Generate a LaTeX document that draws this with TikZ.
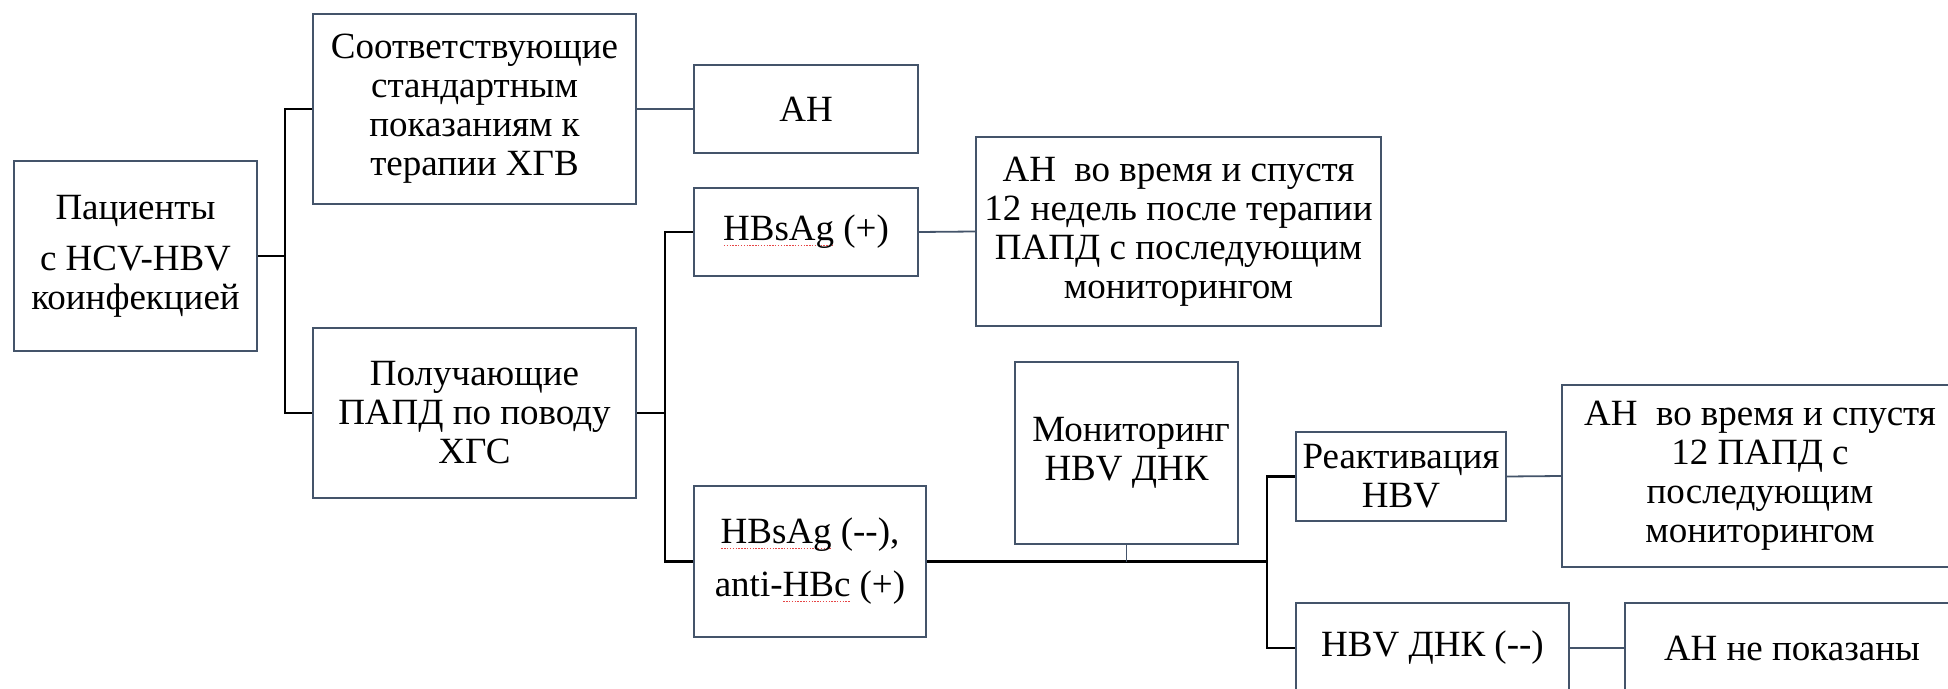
\documentclass[tikz,border=0pt]{standalone}
\usepackage{fontspec}
\setmainfont{Liberation Serif}
\newfontfamily\boxfont[Ligatures=NoCommon]{Liberation Serif}
\usepackage{xcolor}
\definecolor{boxline}{RGB}{68,84,106}
\definecolor{spell}{RGB}{230,70,70}
% dotted red underline under a word
\newcommand\spellmark[1]{\setbox0\hbox{#1}\rlap{\raisebox{-2.6pt}{\color{spell}\hbox to \wd0{\xleaders\hbox to 1.4pt{\hss\rule{0.7pt}{0.55pt}\hss}\hfill}}}\box0\relax}
\begin{document}
\begin{tikzpicture}[x=0.5pt,y=-0.5pt,
  box/.style={draw=boxline,line width=1.2pt,fill=white,inner sep=0pt,align=center,
    font=\boxfont\fontsize{18.5}{19.5}\selectfont},
  tree/.style={black,line width=1.4pt},
  link/.style={boxline,line width=0.9pt}]
\useasboundingbox (0,0) rectangle (1948,689);
\clip (0,0) rectangle (1948,689);

% boxes
\node[box,minimum width=121.5pt,minimum height=95pt] (pat) at (135.5,256)
  {Пациенты\\[6pt]с HCV-HBV\\коинфекцией};
\node[box,minimum width=161.5pt,minimum height=95pt] (std) at (474.5,109)
  {Соответствующие\\стандартным\\показаниям к\\терапии ХГВ};
\node[box,minimum width=112pt,minimum height=44pt] (ah1) at (806,109) {АН};
\node[box,minimum width=161.5pt,minimum height=85pt] (papd) at (474.5,413)
  {Получающие\\ПАПД по поводу\\ХГС};
\node[box,minimum width=112pt,minimum height=44pt] (hbp) at (806,232)
  {\spellmark{HBsAg} (+)};
\node[box,minimum width=202.5pt,minimum height=94.5pt] (ahd1) at (1178.5,231.5)
  {АН~~во время и спустя\\12 недель после терапии\\ПАПД с последующим\\мониторингом};
\node[box,minimum width=116pt,minimum height=75.5pt] (hbm) at (810,561.5)
  {\spellmark{HBsAg} (-{}-),\\[7pt]anti-\spellmark{HBc} (+)};
\node[box,minimum width=111.5pt,minimum height=91pt] (mon) at (1126.5,453)
  {~Мониторинг\\HBV ДНК};
\node[box,minimum width=105pt,minimum height=44.5pt] (react) at (1401,476.5)
  {Реактивация\\HBV};
\node[box,minimum width=198pt,minimum height=91pt] (ahd2) at (1760,476)
  {АН~~во время и спустя\\12 ПАПД с\\последующим\\мониторингом};
\node[box,minimum width=136.5pt,minimum height=45pt] (hbvneg) at (1432.5,648)
  {HBV ДНК (-{}-)};
\node[box,minimum width=167pt,minimum height=45pt] (ahnot) at (1792,648)
  {АН не показаны};

% branch points
\coordinate (j1) at (285,256);
\coordinate (j2) at (665,413);
\coordinate (j3) at (1267,561.5);

% tree connectors
\draw[tree] (pat.east) -- (j1);
\draw[tree] (std.west) -| (j1);
\draw[tree] (papd.west) -| (j1);
\draw[tree] (papd.east) -- (j2);
\draw[tree] (hbp.west) -| (j2);
\draw[tree] (hbm.west) -| (j2);
\draw[tree] (hbm.east) -- (j3);
\draw[tree] (react.west) -| (j3);
\draw[tree] (hbvneg.west) -| (j3);

% thin links
\draw[link] (mon.south) -- (mon.south |- j3);
\draw[link] (std.east) -- (ah1.west);
\draw[link] (hbp.east) -- (ahd1.west);
\draw[link] (react.east) -- (ahd2.west);
\draw[link] (hbvneg.east) -- (ahnot.west);
\end{tikzpicture}
\end{document}
